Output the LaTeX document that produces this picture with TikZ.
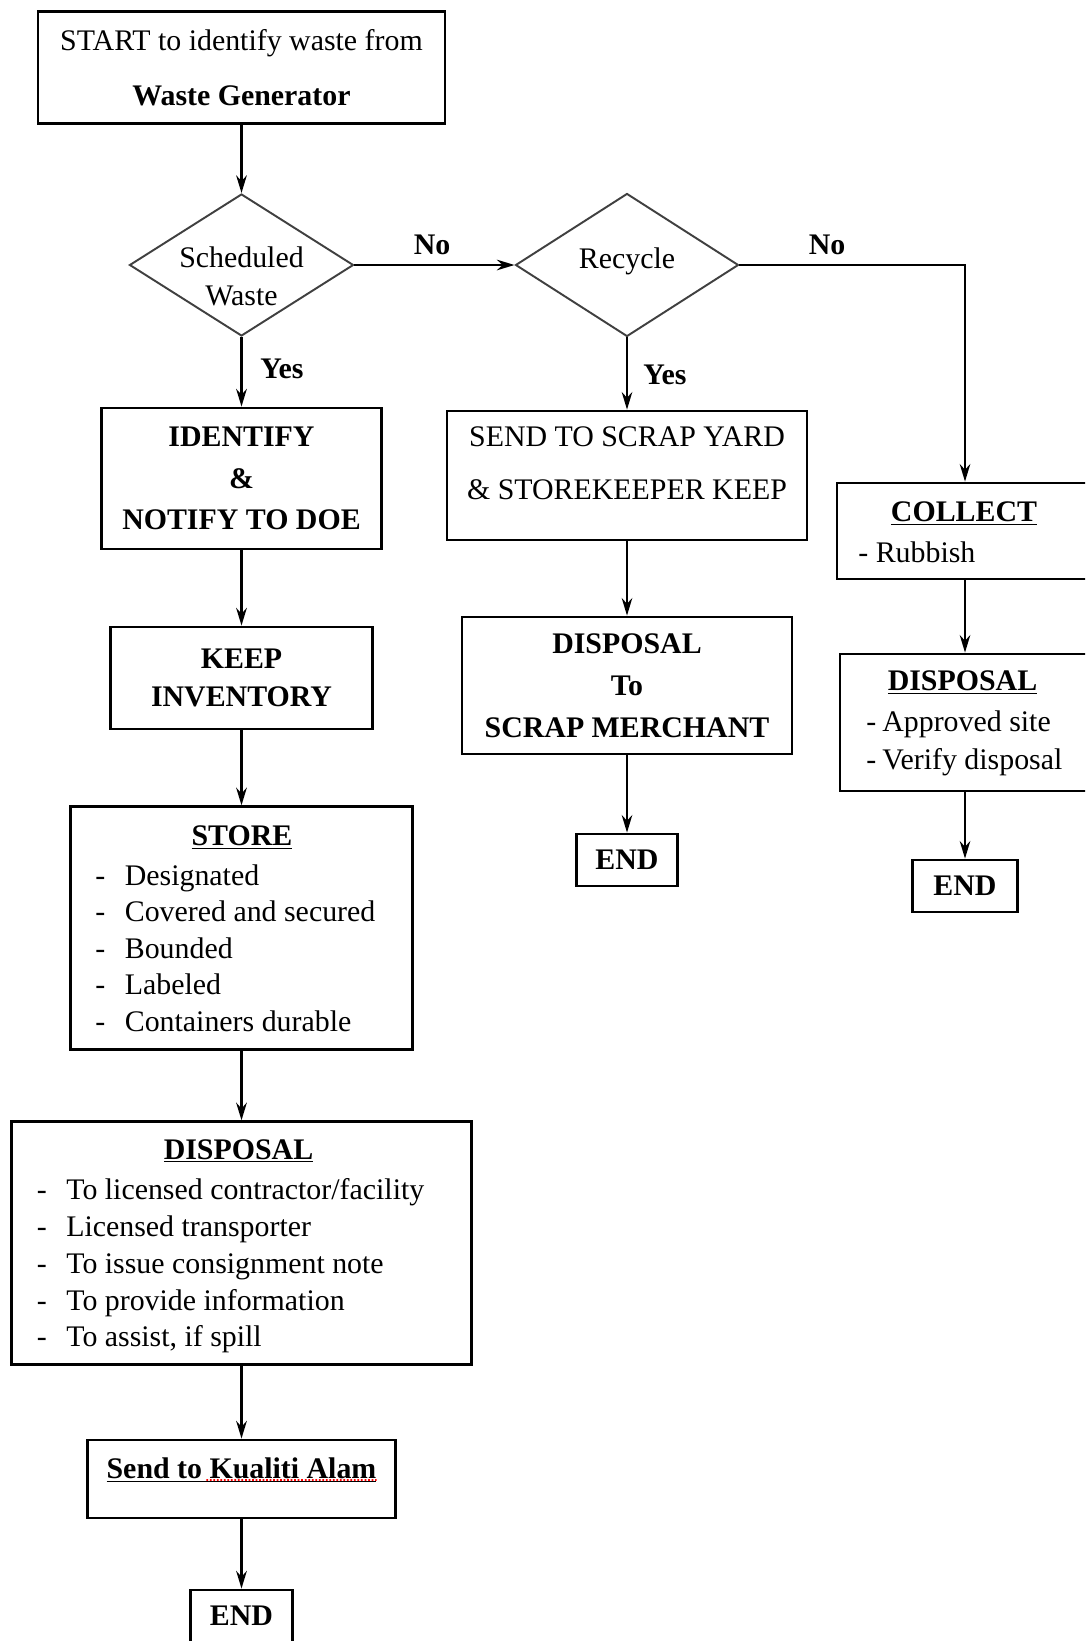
\documentclass[tikz,border=0pt]{standalone}
\usepackage{fontspec}
\setmainfont{Liberation Serif}
\usetikzlibrary{arrows.meta,positioning,calc,shapes.geometric}
\newcommand{\fsz}{\fontsize{17pt}{20.8pt}\selectfont}
\newcommand{\itemdash}[2][0.59cm]{\makebox[#1][l]{-}#2}
\tikzset{
  box/.style    = {draw, line width=1.6pt, align=center, inner sep=2pt, font=\fsz},
  decide/.style = {diamond, draw=black!75, line width=1.1pt, inner sep=0pt},
  txt/.style    = {align=center, inner sep=0pt, font=\fsz},
  lst/.style    = {align=left, inner sep=0pt, anchor=north west, font=\fsz},
  lbl/.style    = {font=\fsz\bfseries, inner sep=1pt},
  flow/.style   = {line width=1.6pt, -{Stealth[length=10pt,width=6pt]}},
  thin/.style   = {line width=1.2pt, -{Stealth[length=10pt,width=6pt]}},
}

\begin{document}
\begin{tikzpicture}
  \useasboundingbox (0,0) rectangle (21.7,-32.82);
  \clip (0,0) rectangle (21.7,-32.82);
  % main column
  \node[box, minimum width=8.14cm, minimum height=2.24cm, font=\fontsize{17pt}{31pt}\selectfont] (start) at (4.83,-1.35) {START to identify waste from\\\textbf{Waste Generator}};
  \node[decide, minimum width=4.48cm, minimum height=2.84cm] (sched) at (4.83,-5.30) {};
  \node[txt, font=\fontsize{17pt}{22pt}\selectfont] (schedtxt) at (4.83,-5.53) {Scheduled\\Waste};
  \node[box, minimum width=5.61cm, minimum height=2.82cm, font=\fontsize{17pt}{23.5pt}\selectfont\bfseries] (ident) at (4.83,-9.57) {IDENTIFY\\\&\\NOTIFY TO DOE};
  \node[box, minimum width=5.25cm, minimum height=2.04cm, font=\fontsize{17pt}{22pt}\selectfont\bfseries] (keep) at (4.83,-13.56) {KEEP\\INVENTORY};
  \node[box, minimum width=6.84cm, minimum height=4.85cm] (store) at (4.83,-18.56) {};
  \node[txt] (storehead) at (4.84,-16.76) {\underline{\textbf{STORE}}};
  \node[lst] (storelist) at (1.90,-17.28) {\itemdash{Designated}\\\itemdash{Covered and secured}\\\itemdash{Bounded}\\\itemdash{Labeled}\\\itemdash{Containers durable}};
  \node[box, minimum width=9.19cm, minimum height=4.85cm] (disp) at (4.83,-24.86) {};
  \node[txt] (disphead) at (4.77,-23.02) {\underline{\textbf{DISPOSAL}}};
  \node[lst, font=\fontsize{17pt}{20.9pt}\selectfont] (displist) at (0.73,-23.57) {\itemdash{To licensed contractor/facility}\\\itemdash{Licensed transporter}\\\itemdash{To issue consignment note}\\\itemdash{To provide information}\\\itemdash{To assist, if spill}};
  \node[box, minimum width=6.17cm, minimum height=1.56cm] (kualiti) at (4.83,-29.58) {};
  \node[txt] (kualitxt) at (4.83,-29.40) {\underline{\textbf{Send to Kualiti Alam}}};
  \draw[red, line width=1pt, densely dotted] ([yshift=1.5pt]$(kualitxt.south west)!0.37!(kualitxt.south east)$) -- ([yshift=1.5pt]kualitxt.south east);
  \node[box, minimum width=2.04cm, minimum height=1.04cm] (end1) at (4.83,-32.32) {\textbf{END}};
  % recycle column
  \node[decide, minimum width=4.46cm, minimum height=2.86cm] (recyc) at (12.54,-5.30) {};
  \node[txt] (recyctxt) at (12.54,-5.23) {Recycle};
  \node[box, minimum width=7.2cm, minimum height=2.58cm] (scrap) at (12.54,-9.51) {};
  \node[txt, font=\fontsize{17pt}{30pt}\selectfont] (scraptxt) at (12.54,-9.27) {SEND TO SCRAP YARD\\\& STOREKEEPER KEEP};
  \node[box, minimum width=6.6cm, minimum height=2.74cm, font=\fontsize{17pt}{23.8pt}\selectfont\bfseries] (merch) at (12.54,-13.71) {DISPOSAL\\To\\SCRAP MERCHANT};
  \node[box, minimum width=2.03cm, minimum height=1.04cm] (end2) at (12.54,-17.20) {\textbf{END}};
  % rubbish column
  \node[box, minimum width=5.12cm, minimum height=1.92cm] (collect) at (19.30,-10.62) {};
  \node[txt] (collecthead) at (19.28,-10.28) {\underline{\textbf{COLLECT}}};
  \node[lst] (collectlist) at (17.16,-10.82) {- Rubbish};
  \node[box, minimum width=5.0cm, minimum height=2.74cm] (disp2) at (19.30,-14.45) {};
  \node[txt] (disp2head) at (19.25,-13.66) {\underline{\textbf{DISPOSAL}}};
  \node[lst, font=\fontsize{17pt}{22.1pt}\selectfont] (disp2list) at (17.32,-14.20) {\itemdash[0.32cm]{Approved site}\\\itemdash[0.32cm]{Verify disposal}};
  \node[box, minimum width=2.09cm, minimum height=1.04cm] (end3) at (19.30,-17.72) {\textbf{END}};
  % labels
  \node[lbl] (no1) at (8.64,-4.90) {No};
  \node[lbl] (no2) at (16.54,-4.90) {No};
  \node[lbl] (yes1) at (5.64,-7.38) {Yes};
  \node[lbl] (yes2) at (13.30,-7.50) {Yes};
  % connectors
  \draw[flow] (start) -- (sched);
  \draw[flow] (sched) -- (recyc);
  \draw[flow] (sched) -- (ident);
  \draw[flow] (ident) -- (keep);
  \draw[flow] (keep) -- (store);
  \draw[flow] (store) -- (disp);
  \draw[flow] (disp) -- (kualiti);
  \draw[flow] (kualiti) -- (end1);
  \draw[thin] (recyc) -- (scrap);
  \draw[thin] (scrap) -- (merch);
  \draw[thin] (merch) -- (end2);
  \draw[thin] (recyc.east) -| (collect.north);
  \draw[thin] (collect) -- (disp2);
  \draw[thin] (disp2) -- (end3);
\end{tikzpicture}
\end{document}
